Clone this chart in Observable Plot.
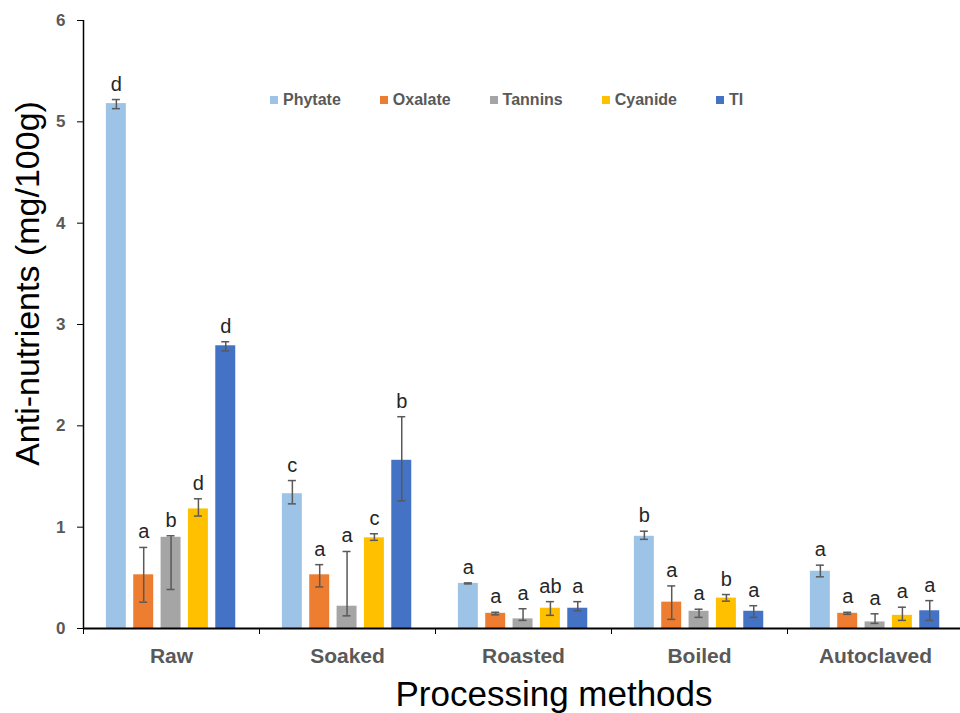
<!DOCTYPE html>
<html><head><meta charset="utf-8">
<script src="https://cdn.jsdelivr.net/npm/d3@7"></script>
<script src="https://cdn.jsdelivr.net/npm/@observablehq/plot@0.6"></script>
<style>
body{margin:0;background:#fff;font-family:"Liberation Sans",Arial,sans-serif;}
#wrap{position:relative;width:960px;height:713px;overflow:hidden;background:#fff}
#legend{position:absolute;left:270px;top:91px;display:flex;gap:39px;font-weight:bold;font-size:16px;color:#595959;line-height:18px}
.item{display:flex;align-items:center;gap:5px}
.sw{width:8px;height:8px}
</style></head><body><div id="wrap"><div id="legend"></div></div>
<script>
// ---- data ----
const methods = ["Raw", "Soaked", "Roasted", "Boiled", "Autoclaved"];
const nutrients = ["Phytate", "Oxalate", "Tannins", "Cyanide", "TI"];
const colors = ["#9DC3E6", "#ED7D31", "#A5A5A5", "#FFC000", "#4472C4"];
const yTicks = [0, 1, 2, 3, 4, 5, 6];

const phytate   = [5.18, 1.33, 0.445, 0.91, 0.565];
const phytateLo = [5.13, 1.23, 0.44, 0.88, 0.51];
const phytateHi = [5.22, 1.46, 0.45, 0.96, 0.625];
const phytateLetters = ["d", "c", "a", "b", "a"];

const oxalate   = [0.53, 0.53, 0.15, 0.26, 0.15];
const oxalateLo = [0.26, 0.41, 0.135, 0.09, 0.14];
const oxalateHi = [0.80, 0.63, 0.16, 0.42, 0.16];
const oxalateLetters = ["a", "a", "a", "a", "a"];

const tannins   = [0.90, 0.22, 0.095, 0.17, 0.065];
const tanninsLo = [0.385, 0.125, 0.08, 0.11, 0.05];
const tanninsHi = [0.915, 0.76, 0.195, 0.19, 0.145];
const tanninsLetters = ["b", "a", "a", "a", "a"];

const cyanide   = [1.18, 0.895, 0.20, 0.30, 0.13];
const cyanideLo = [1.11, 0.87, 0.13, 0.27, 0.08];
const cyanideHi = [1.28, 0.935, 0.265, 0.335, 0.21];
const cyanideLetters = ["d", "c", "ab", "b", "a"];

const ti   = [2.79, 1.66, 0.20, 0.17, 0.175];
const tiLo = [2.74, 1.26, 0.175, 0.11, 0.08];
const tiHi = [2.83, 2.09, 0.265, 0.225, 0.275];
const tiLetters = ["d", "b", "a", "a", "a"];

const series = [phytate, oxalate, tannins, cyanide, ti];
const lows = [phytateLo, oxalateLo, tanninsLo, cyanideLo, tiLo];
const highs = [phytateHi, oxalateHi, tanninsHi, cyanideHi, tiHi];
const letters = [phytateLetters, oxalateLetters, tanninsLetters, cyanideLetters, tiLetters];

// ---- table ----
const data = [];
methods.forEach((m, i) => nutrients.forEach((n, j) => data.push({
  method: m, mi: i, nutrient: n,
  value: series[j][i], lo: lows[j][i], hi: highs[j][i], letter: letters[j][i]
})));

const inner = d3.scaleBand(nutrients, [0.13, 0.865]).paddingInner(0.27);
const bx1 = d => d.mi + inner(d.nutrient);
const bx2 = d => bx1(d) + inner.bandwidth();
const bc = d => bx1(d) + inner.bandwidth() / 2;
const cap = 4 / 176;
const boundaries = d3.range(methods.length + 1);
const centers = methods.map((m, i) => i + 0.5);
const errColor = "#595959";

const chart = Plot.plot({
  width: 960, height: 713,
  marginLeft: 83, marginTop: 20, marginBottom: 85, marginRight: 0,
  style: {fontFamily: '"Liberation Sans", Arial, sans-serif', background: "white", overflow: "hidden"},
  x: {domain: [0, methods.length], range: [83, 963]},
  y: {domain: [0, 6]},
  color: {domain: nutrients, range: colors},
  marks: [
    Plot.rect(data, {x1: bx1, x2: bx2, y1: 0, y2: "value", fill: "nutrient"}),
    Plot.ruleX(data, {x: bc, y1: "lo", y2: "hi", stroke: errColor, strokeWidth: 1.5}),
    Plot.ruleY(data, {x1: d => bc(d) - cap, x2: d => bc(d) + cap, y: "lo", stroke: errColor, strokeWidth: 1.5}),
    Plot.ruleY(data, {x1: d => bc(d) - cap, x2: d => bc(d) + cap, y: "hi", stroke: errColor, strokeWidth: 1.5}),
    Plot.text(data, {x: bc, y: "hi", text: "letter", lineAnchor: "bottom", dy: -9, fontSize: 20, fill: "#262626"}),
    Plot.ruleX([0], {stroke: "black", strokeWidth: 1.5}),
    Plot.ruleY([0], {stroke: "black", strokeWidth: 2}),
    Plot.axisY({ticks: yTicks, tickSize: 6, tickPadding: 12, tickFormat: d3.format("d"), fontSize: 17, fontWeight: "bold", fill: "#595959", stroke: "black", label: null}),
    Plot.axisX({ticks: boundaries, tickSize: 6, tickFormat: () => "", stroke: "black", label: null}),
    Plot.axisX({ticks: centers, tickSize: 0, tickPadding: 20, tickFormat: v => methods[Math.floor(v)], fontSize: 21, fontWeight: "bold", fill: "#595959", label: null}),
    Plot.text(["Anti-nutrients (mg/100g)"], {text: d => d, frameAnchor: "left", textAnchor: "middle", lineAnchor: "middle", rotate: -90, dx: -55, dy: -41, fontSize: 34, fill: "black"}),
    Plot.text(["Processing methods"], {text: d => d, frameAnchor: "bottom", textAnchor: "middle", lineAnchor: "middle", dx: 32, dy: 66, fontSize: 35, fill: "black"})
  ]
});
document.getElementById("wrap").prepend(chart);

const legend = document.getElementById("legend");
nutrients.forEach((n, j) => {
  const it = document.createElement("div");
  it.className = "item";
  const sw = document.createElement("span");
  sw.className = "sw";
  sw.style.background = colors[j];
  const t = document.createElement("span");
  t.textContent = n;
  it.append(sw, t);
  legend.append(it);
});
</script>
</body></html>
